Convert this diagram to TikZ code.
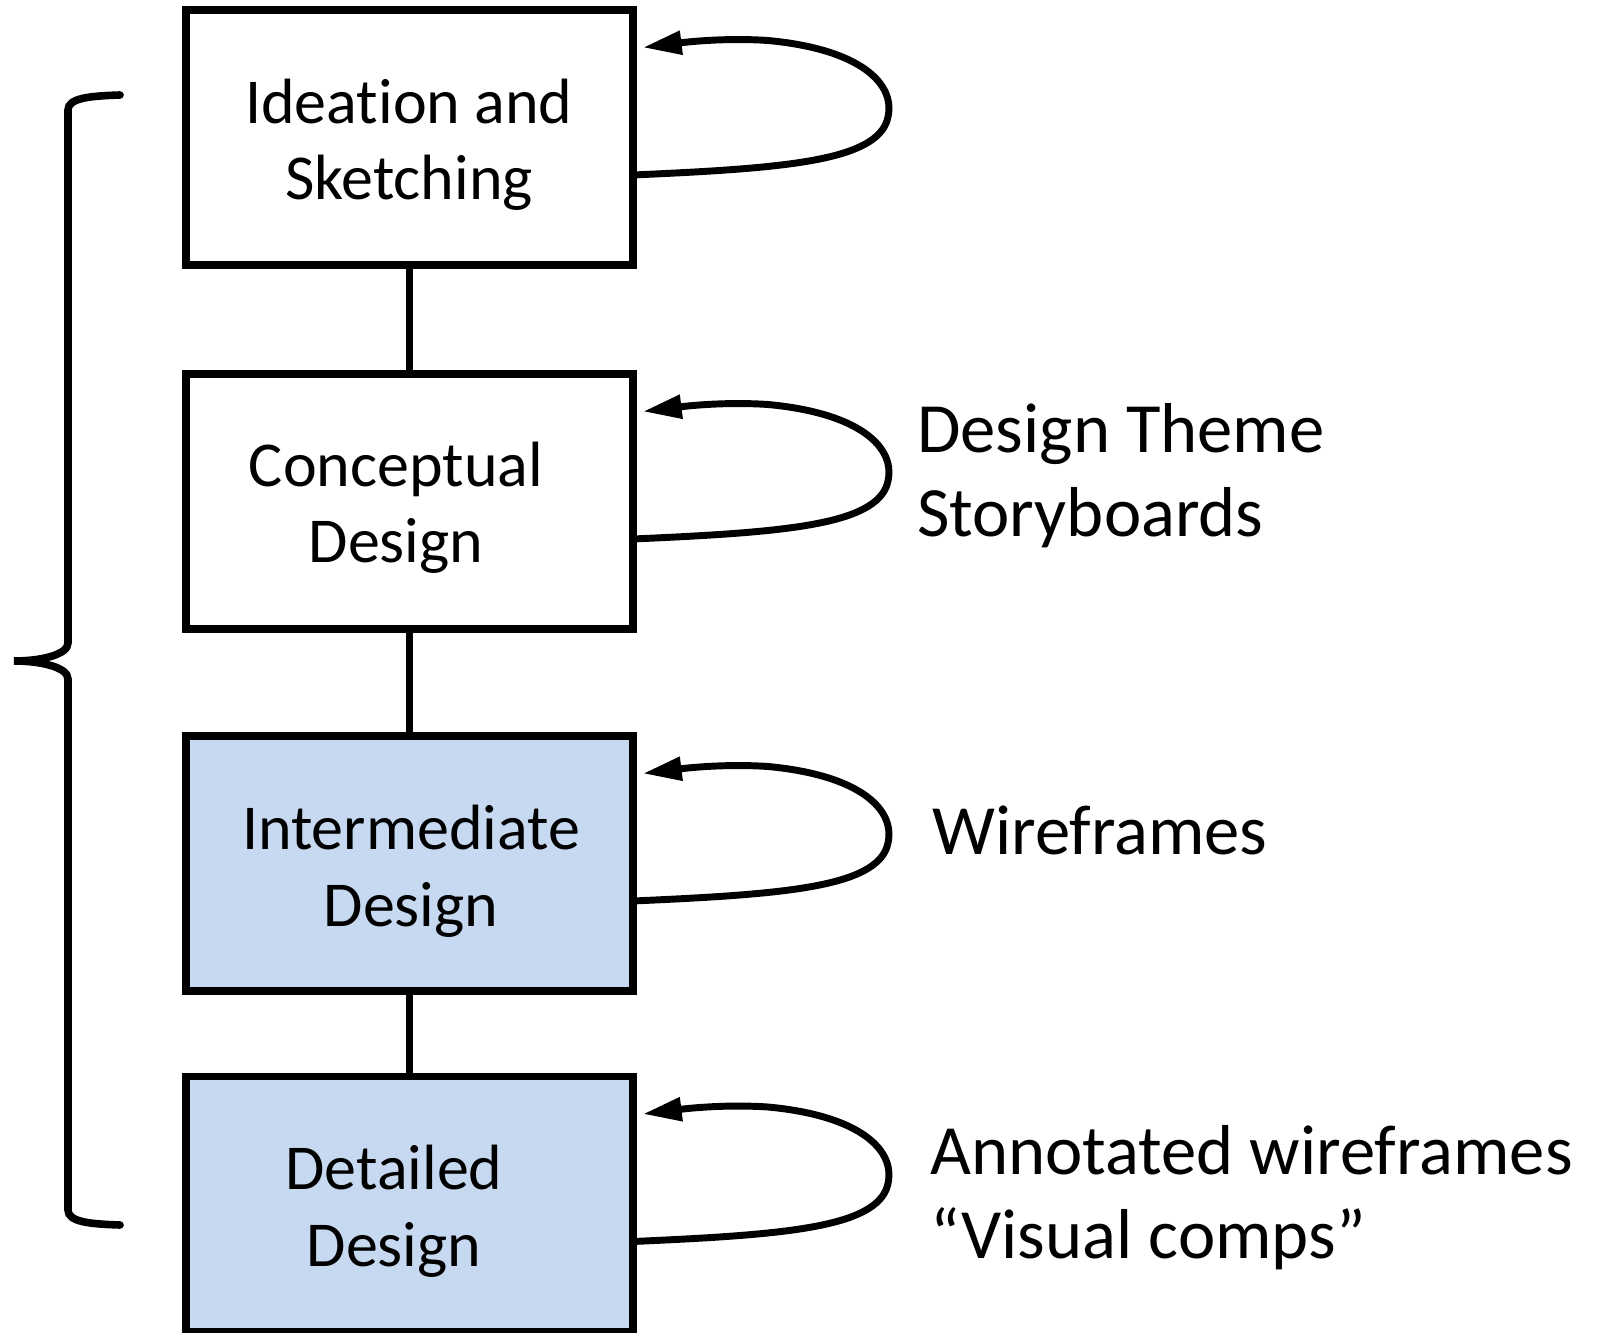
\documentclass[tikz,border=0pt]{standalone}
\usepackage{fontspec}
\setmainfont{Carlito}[Ligatures=NoCommon]
\usetikzlibrary{arrows.meta,calc}
\definecolor{boxblue}{RGB}{198,217,240}
\tikzset{
  stagebox/.style={draw=black, line width=5.7pt, minimum width=335.25pt, minimum height=191.25pt, inner sep=0pt, outer sep=0pt, line join=miter},
  bluebox/.style={stagebox, fill=boxblue},
  whitebox/.style={stagebox, fill=white},
  boxtext/.style={font=\fontsize{48pt}{57.7pt}\selectfont, align=center, anchor=base, inner sep=0pt},
  sidetext/.style={font=\fontsize{53pt}{63pt}\selectfont, anchor=base west, inner sep=0pt},
  link/.style={line width=5.7pt},
  fbloop/.style={line width=5.2pt, -{Triangle[length=29pt,width=17pt]}},
  bracestyle/.style={line width=5.7pt, line cap=round}
}
\newcommand\drawfbloop[1]{%
  \begin{scope}[shift={(#1.east)}]
    \draw[fbloop] (0,37.5) .. controls (148,31) and (236,24) .. (253,-14)
      .. controls (267,-50) and (232,-88) .. (135,-97)
      .. controls (90,-100) and (50,-95) .. (10,-90);
  \end{scope}}
\begin{document}
\begin{tikzpicture}[x=0.75pt,y=-0.75pt]
\useasboundingbox (0,0) rectangle (1603,1333);
% boxes
\node[whitebox] (b1) at (409.5,137.5) {};
\node[whitebox] (b2) at (409.5,501.5) {};
\node[bluebox]  (b3) at (409.5,863.5) {};
\node[bluebox]  (b4) at (409.5,1204) {};
% connectors
\draw[link] (b1.south) -- (b2.north);
\draw[link] (b2.south) -- (b3.north);
\draw[link] (b3.south) -- (b4.north);
% box texts (base anchor = last line baseline)
\node[boxtext] (t1) at (409,200) {Ideation and\\Sketching};
\node[boxtext] (t2) at (396,563) {Conceptual\\Design};
\node[boxtext] (t3) at (411,926) {Intermediate\\Design};
\node[boxtext] (t4) at (394,1266) {Detailed\\Design};
% loops
\drawfbloop{b1}
\drawfbloop{b2}
\drawfbloop{b3}
\drawfbloop{b4}
% side labels
\node[sidetext] (l1a) at (917,453) {Design Theme};
\node[sidetext] (l1b) at (917,537) {Storyboards};
\node[sidetext] (l2) at (932,854) {Wireframes};
\node[sidetext] (l3a) at (930,1174) {Annotated wireframes};
\node[sidetext] (l3b) at (930,1258) {“Visual comps”};
% brace
\coordinate (brtop) at (120,95);
\coordinate (brtip) at (14,661);
\coordinate (brbot) at (120,1225);
\draw[bracestyle] (brtop) .. controls (90,96) and (68,98) .. (68,110) -- (68,643)
  .. controls (68,655) and (40,661) .. (brtip)
  .. controls (40,661) and (68,667) .. (68,679) -- (68,1210)
  .. controls (68,1222) and (90,1224) .. (brbot);
\end{tikzpicture}
\end{document}
